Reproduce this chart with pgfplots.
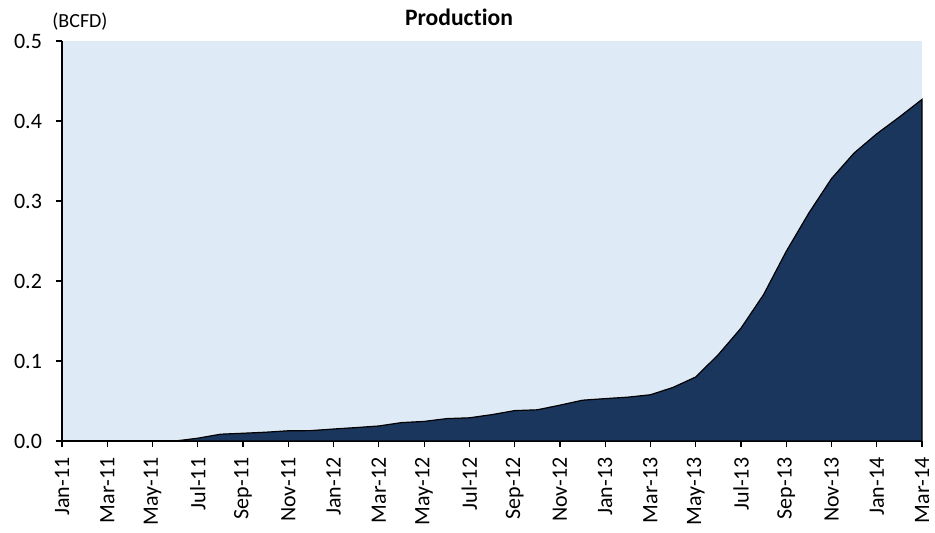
\documentclass[border=0pt]{standalone}
\usepackage{fontspec}
\setmainfont{Carlito}[Ligatures={NoCommon}]
\usepackage{pgfplots}
\pgfplotsset{compat=1.18}
\definecolor{navy}{HTML}{1B365D}
\definecolor{bgblue}{HTML}{DEEAF6}
\begin{document}
\begin{tikzpicture}
\path[use as bounding box] (-31pt,-45.5pt) rectangle (436.5pt,220.5pt);
\begin{axis}[
  width=430pt, height=200pt, scale only axis,
  at={(0,0)}, anchor=south west,
  xmin=0, xmax=38, ymin=0, ymax=0.5,
  axis x line*=bottom, axis y line*=left,
  axis line style={-, black, line width=0.6pt},
  xtick pos=bottom, ytick pos=left,
  tick align=outside, major tick length=3pt,
  tick style={black, line width=0.6pt},
  axis background/.style={fill=bgblue},
  font=\fontsize{11}{13}\selectfont,
  ytick={0,0.1,0.2,0.3,0.4,0.5},
  yticklabel style={/pgf/number format/.cd, fixed, fixed zerofill, precision=1, assume math mode=true},
  yticklabel shift=3.5pt,
  xtick={0,2,...,38},
  xticklabels={Jan-11,Mar-11,May-11,Jul-11,Sep-11,Nov-11,Jan-12,Mar-12,May-12,Jul-12,Sep-12,Nov-12,Jan-13,Mar-13,May-13,Jul-13,Sep-13,Nov-13,Jan-14,Mar-14},
  xticklabel style={rotate=90, anchor=east},
  xticklabel shift=1.8pt,
  clip=false,
]
\addplot[fill=navy, draw=black, line width=0.6pt] coordinates {
(0,0) (1,0) (2,0) (3,0) (4,0) (5,0) (6,0.0035) (7,0.0085) (8,0.0097) (9,0.011)
(10,0.0128) (11,0.013) (12,0.015) (13,0.0168) (14,0.0188) (15,0.023) (16,0.0245)
(17,0.028) (18,0.029) (19,0.033) (20,0.038) (21,0.039) (22,0.0448) (23,0.051)
(24,0.053) (25,0.0548) (26,0.0578) (27,0.067) (28,0.080) (29,0.108) (30,0.141)
(31,0.183) (32,0.237) (33,0.285) (34,0.328) (35,0.360) (36,0.384) (37,0.405) (38,0.427)
} \closedcycle;
\node[anchor=base, inner sep=0pt, font=\bfseries\fontsize{11.8}{13}\selectfont] at ([yshift=8pt]rel axis cs:0.4616,1) {Production};
\node[anchor=base west, inner sep=0pt, font=\fontsize{10}{12}\selectfont] at ([xshift=-5pt,yshift=7pt]rel axis cs:0,1) {(BCFD)};
\end{axis}
\end{tikzpicture}
\end{document}
